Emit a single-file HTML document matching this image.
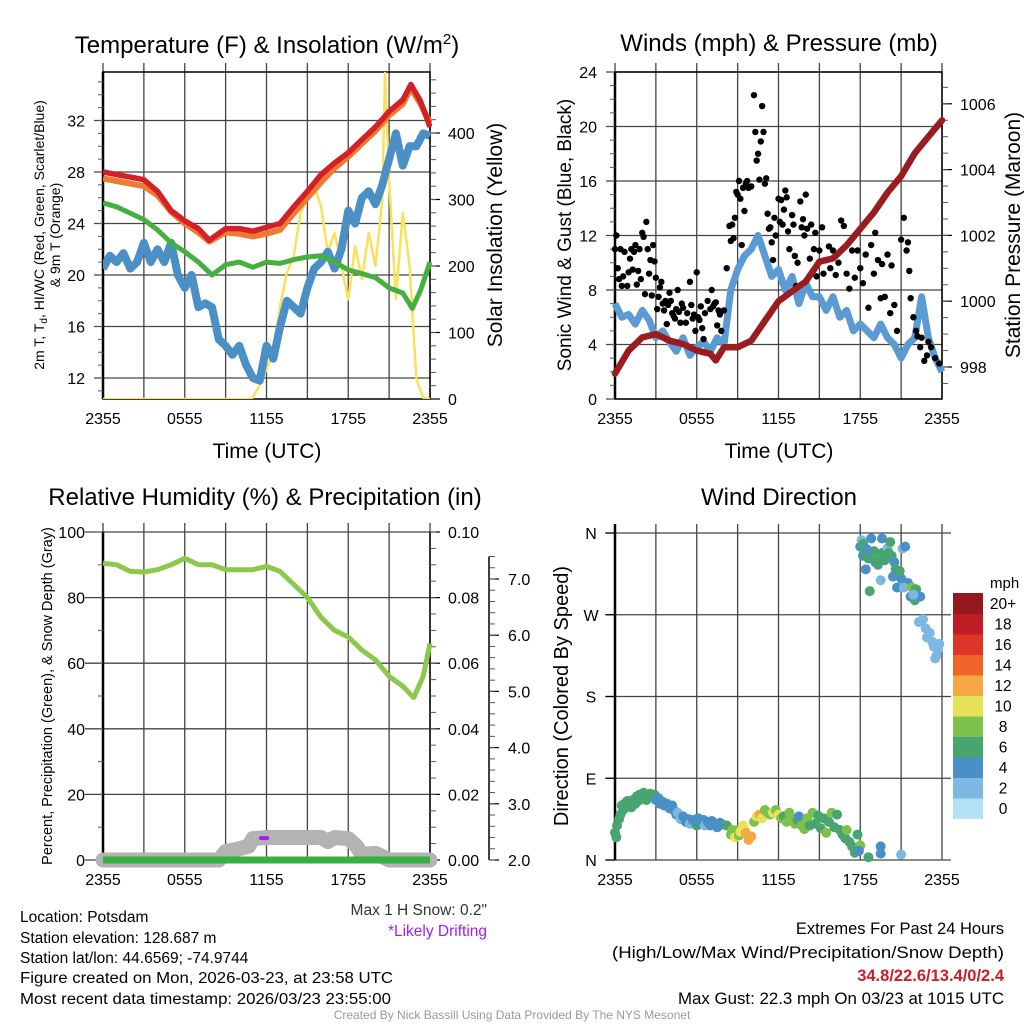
<!DOCTYPE html>
<html><head><meta charset="utf-8"><style>
html,body{margin:0;padding:0;background:#fff}
svg{display:block;font-family:"Liberation Sans",sans-serif}
</style></head><body>
<svg id="s" width="1024" height="1024" viewBox="0 0 1024 1024" xmlns="http://www.w3.org/2000/svg">
<rect width="1024" height="1024" fill="#fff"/>
<g id="g1"></g>
<g id="g2"></g>
<g id="g3"></g>
<g id="g4"></g>
<text x="267" y="53" font-size="24" text-anchor="middle">Temperature (F) &amp; Insolation (W/m<tspan font-size="15" dy="-9">2</tspan><tspan dy="9">)</tspan></text>
<text x="779" y="51" font-size="24" text-anchor="middle">Winds (mph) &amp; Pressure (mb)</text>
<text x="265" y="505" font-size="24" text-anchor="middle">Relative Humidity (%) &amp; Precipitation (in)</text>
<text x="779" y="505" font-size="24" text-anchor="middle">Wind Direction</text>
<g font-size="15.5">
<text x="20" y="922">Location: Potsdam</text>
<text x="20" y="943">Station elevation: 128.687 m</text>
<text x="20" y="963">Station lat/lon: 44.6569; -74.9744</text>
<text x="20" y="983" textLength="373" lengthAdjust="spacingAndGlyphs">Figure created on Mon, 2026-03-23, at 23:58 UTC</text>
<text x="20" y="1004" textLength="371" lengthAdjust="spacingAndGlyphs">Most recent data timestamp: 2026/03/23 23:55:00</text>
</g>
<text x="487" y="915" font-size="15.5" text-anchor="end" fill="#333">Max 1 H Snow: 0.2"</text>
<text x="487" y="936" font-size="15.5" text-anchor="end" fill="#a020f0">*Likely Drifting</text>
<g font-size="16.5" text-anchor="end">
<text x="1004" y="934">Extremes For Past 24 Hours</text>
<text x="1004" y="958" textLength="392" lengthAdjust="spacingAndGlyphs">(High/Low/Max Wind/Precipitation/Snow Depth)</text>
<text x="1004" y="981" fill="#c8202a" font-weight="bold">34.8/22.6/13.4/0/2.4</text>
<text x="1004" y="1004" textLength="326" lengthAdjust="spacingAndGlyphs">Max Gust: 22.3 mph On 03/23 at 1015 UTC</text>
</g>
<text x="512" y="1019" font-size="12" text-anchor="middle" fill="#999">Created By Nick Bassill Using Data Provided By The NYS Mesonet</text>
</svg>
<script>
// ---------- data ----------
const hourTicks = [0,6,12,18,24];
const timeLabels = ["2355","0555","1155","1755","2355"];
const tHours = [0,1,2,3,4,5,6,7,7.8,9,10,11,12,13,14,15,16,17,18,19,20,21,22,22.6,23.3,24];
const tempRed = [28.0,27.8,27.6,27.4,26.5,25.0,24.2,23.6,22.7,23.6,23.6,23.4,23.7,24.0,25.3,26.5,27.8,28.7,29.5,30.5,31.5,32.7,33.6,34.8,33.5,31.5];
const temp9m = [27.5,27.3,27.1,26.9,26.2,24.9,24.0,23.3,22.6,23.3,23.2,23.0,23.2,23.5,24.8,26.0,27.2,28.3,29.2,30.2,31.2,32.4,33.3,34.5,33.3,31.8];
const dewHours = [0,1,2,3,4,5,6,7,8,9,10,11,12,13,14,15,16,17,18,19,20,21,22,22.7,23.3,24];
const dewGreen = [25.6,25.3,24.8,24.3,23.5,22.5,21.8,21.0,20.0,20.8,21.0,20.6,21.0,20.9,21.2,21.4,21.5,21.0,20.4,20.1,19.8,19.0,18.6,17.4,18.8,21.0];
const wcHours = [0,0.5,1,1.5,2,2.5,3,3.5,4,4.5,5,5.5,6,6.5,7,7.5,8,8.5,9,9.5,10,10.5,11,11.5,12,12.5,13,13.5,14,14.5,15,15.5,16,16.5,17,17.5,18,18.5,19,19.5,20,20.5,21,21.5,22,22.5,23,23.5,24];
const wcBlue = [20.5,21.5,21,21.7,20.5,21,22.5,21,22,21,22.5,20,19,20,17.5,17.8,17.5,15,14.5,13.8,14.5,13,12,11.8,14.5,13.5,16,18,17.5,17,19,20.5,21,21.8,20.5,22,25,24,26,26.5,25.5,27,29,31,28.5,30,30,31,30.8];
const solHours = [0,10.9,11.5,12,12.5,13,13.5,14,14.5,15,15.5,16,16.5,17,17.5,18,18.5,19,19.5,20,20.5,20.7,21,21.5,22,22.5,23,23.5,24];
const solar = [0,0,20,45,70,140,190,215,280,300,320,290,220,250,200,150,230,180,250,200,300,490,330,150,280,200,30,2,0];

const presHours = [0,1,2,3,4,5,6,7,7.4,8,9,10,11,12,13,14,15,16,17,18,19,20,21,22,23,24];
const pressure = [997.8,998.5,998.9,999.0,998.8,998.7,998.5,998.4,998.2,998.6,998.6,998.8,999.4,1000.0,1000.3,1000.6,1001.2,1001.3,1001.7,1002.2,1002.7,1003.3,1003.8,1004.5,1005.0,1005.5];
const windHours = wcHours;
const windBlue = [7,6,6.2,5.5,6.5,5.8,4.5,5,4.2,3.5,4.5,3.2,3.8,4.2,3.5,4.5,4,8,9.5,10.5,11,12,10.5,9,9.5,8,9,7,8.5,7.5,7.5,6.5,7.5,6,6.5,5,5.5,5,4.5,5.5,4.5,4,3,4,4.5,7.5,4.5,3,2];
const gustHours = [0,0.1,0.2,0.3,0.4,0.5,0.6,0.7,0.9,1.0,1.1,1.2,1.3,1.4,1.5,1.6,1.7,1.8,1.9,2.0,2.1,2.2,2.3,2.4,2.5,2.6,2.7,2.8,2.9,3.0,3.1,3.2,3.3,3.4,3.5,3.6,3.7,3.8,3.9,4.0,4.1,4.2,4.3,4.4,4.5,4.6,4.7,4.8,4.9,5.0,5.2,5.3,5.5,5.6,5.7,5.8,5.9,6.0,6.1,6.2,6.3,6.4,6.5,6.6,6.8,7.0,7.1,7.2,7.3,7.4,7.5,7.6,7.7,7.8,8.0,8.2,8.4,8.5,8.6,8.7,8.8,8.9,9.0,9.1,9.2,9.3,9.4,9.5,9.6,9.7,9.8,10.0,10.2,10.3,10.4,10.5,10.6,10.7,10.8,10.9,11.0,11.1,11.2,11.3,11.4,11.5,11.6,11.7,11.8,12.0,12.1,12.2,12.3,12.4,12.5,12.6,12.7,12.8,13.0,13.1,13.2,13.3,13.4,13.6,13.7,13.8,13.9,14.0,14.1,14.3,14.4,14.6,14.7,14.8,15.0,15.2,15.3,15.5,15.7,15.8,16.0,16.2,16.4,16.6,16.8,17.0,17.2,17.4,17.6,17.8,18.0,18.2,18.4,18.6,18.8,19.0,19.1,19.3,19.5,19.6,19.8,20.0,20.2,20.3,20.5,20.7,21.0,21.2,21.4,21.5,21.6,21.7,21.9,22.1,22.2,22.4,22.5,22.7,22.9,23.0,23.2,23.5,23.8];
const gustMph = [11,12,9.6,8.8,11,8.3,9,10.8,8.3,9.3,10.3,11,9.5,10.8,11.3,8.4,9.4,11,8.8,12.2,11.9,7.7,13,11,9.2,10.2,7.6,11.3,10.1,8.9,6.6,7.5,8.2,8.6,7,6.5,7.2,5.5,6.9,7.8,7.2,6.3,6.1,5.9,6.6,8,6.4,5.6,7,6.7,5.6,6.3,8.6,6.9,5.9,6.2,5,9.3,6,5.8,6.8,5.2,4.4,6.3,7.2,6.6,8,6.8,7,7.1,5.4,6.5,6.2,5,6.5,9.6,12.7,11.6,12.8,11.8,13.3,15.2,15,16,14.7,11.3,15.5,13.8,15.8,16,15.5,15.6,22.3,19.6,17.5,18,16.1,18.9,21.5,19.6,15.8,16.2,13.6,12.5,12.6,11.5,10.2,13.3,12,14.7,13,14.6,12.8,13.9,15.3,14.8,12.3,11,13.5,12.8,10.5,8.3,10,14.5,12.6,13.2,12,15,12.5,10.3,12.8,11,12.2,9,10.9,12.6,9.2,10.2,11.2,9.6,10.9,9.1,10,13.1,12.7,9.2,8.1,10.9,8.9,10.9,9.6,8.5,10.6,6.7,11.3,9.2,12.2,10.2,7.4,9.9,7.5,10.6,6.3,9.8,6.9,5,11.7,13.3,10.9,11.5,9.4,7.4,6,5,4.6,3.8,4.5,2.8,3.2,4.2,3.8,3,2.6];

const rhHours = [0,1,2,3,4,5,6,7,8,9,10,11,12,13,14,15,16,17,18,19,20,21,22,22.8,23.5,24];
const rh = [90.5,90,88,87.8,88.5,90,92,90,90,88.5,88.5,88.5,89.5,88,84,80,74,70,68,64,61,56,53,49.5,56,66];
const snowHours = [0,8.5,9,10,10.7,11,12,13,14,15,16,16.5,17,18,18.6,19,20,21,24];
const snowDepth = [2.0,2.0,2.15,2.2,2.25,2.38,2.4,2.4,2.4,2.4,2.4,2.33,2.4,2.38,2.25,2.1,2.12,2.0,2.0];
const precipHours = [0,24];
const precip = [0,0];

const dirHours = [
 0,0.1,0.15,0.3,0.4,0.5,0.6,0.7,0.8,0.9,1.0,1.1,1.2,1.3,1.5,1.6,1.7,1.8,2.0,2.1,2.3,2.4,2.6,2.7,2.9,
 3.0,3.2,3.3,3.5,3.6,3.8,4.0,4.2,4.3,4.5,4.6,4.8,5.0,5.2,5.4,5.5,5.7,6.0,6.1,6.3,6.5,6.6,6.8,7.0,7.1,7.3,7.5,7.7,7.9,8.2,
 8.5,8.6,8.8,9.0,9.1,9.2,9.4,9.5,9.6,9.8,10.0,10.2,10.4,10.6,10.8,11.0,11.2,11.4,
 11.6,11.8,12.0,12.2,12.4,12.6,12.8,13.0,13.2,13.4,13.5,13.7,13.9,14.1,14.3,14.5,14.7,14.9,15.1,15.3,15.5,15.7,15.9,16.1,16.3,16.5,16.7,16.9,17.0,17.2,17.4,17.6,17.8,17.9,18.0,18.6,
 18.0,18.1,18.2,18.3,18.4,18.6,18.7,18.8,19.0,19.1,19.3,19.5,19.6,19.8,19.6,20.0,20.2,20.3,20.5,20.7,20.6,21.1,21.3,21.5,21.0,21.2,21.7,21.8,22.0,22.1,22.4,21.9,18.2,18.5,19.2,19.9,20.1,20.4,20.9,
 22.3,22.6,22.8,22.9,23.1,23.3,23.4,23.6,23.7,23.5,23.8,
 19.5,19.5,21.0,17.9];
const dirDeg = [
 30,25,38,45,50,60,55,62,58,65,60,64,58,66,62,70,65,72,68,74,66,72,73,70,72,
 66,68,62,64,60,62,57,60,55,50,52,45,48,42,45,40,44,38,46,40,44,38,42,38,43,40,36,41,39,38,
 28,33,25,33,27,31,38,34,30,22,26,42,48,50,46,55,52,50,
 52,55,50,46,48,42,52,45,40,44,48,38,34,46,38,52,40,49,35,46,30,42,52,36,50,33,28,24,33,20,15,8,28,12,16,3,
 345,352,335,339,320,332,296,354,340,328,325,308,338,330,354,343,350,335,328,300,320,343,345,305,310,300,290,300,286,298,290,292,348,342,330,336,338,312,318,
 262,265,255,245,250,240,235,225,232,222,238,
 15,7,6,10];
const dirSpeed = [
 6,6,6,6,6,6,6,6,6,6,6,6,6,6,6,6,6,6,6,6,6,6,6,6,6,
 4,4,4,4,4,4,4,4,4,4,3,2,4,4,4,2,4,6,4,4,4,3,4,4,4,4,4,4,4,6,
 8,8,10,8,9,10,10,10,12,13,13,9,10,13,10,8,8,8,
 10,8,10,8,6,8,8,8,8,6,4,8,8,8,6,8,6,6,6,6,8,6,8,6,6,6,6,6,8,6,6,6,6,4,8,6,
 4,2,4,6,4,6,6,4,6,4,6,2,6,6,4,2,6,6,4,4,6,2,4,4,4,2,4,8,6,6,4,2,6,4,6,6,6,4,6,
 2,2,2,2,2,2,2,2,2,2,2,
 4,4,2,4];
const speedBins = ["0","2","4","6","8","10","12","14","16","18","20+"];
const binColors = ["#b4e1f6","#7cb8e2","#4a8fc6","#49a570","#7dc14b","#e6e25a","#f6a844","#ef6429","#de3529","#be1d25","#94181c"];

// ---------- helpers ----------
const NS="http://www.w3.org/2000/svg";
function mk(parent,tag,attrs){const e=document.createElementNS(NS,tag);for(const k in attrs)e.setAttribute(k,attrs[k]);parent.appendChild(e);return e;}
const X0=103, X1=430, X0b=615, X1b=942;
function xs(a,b){return h=>a+(b-a)*h/24;}
function pathD(hs,vs,fx,fy){return hs.map((h,i)=>(i?"L":"M")+fx(h).toFixed(1)+","+fy(vs[i]).toFixed(1)).join("");}

function grid(g,fx,top,bot,yTicks,fy,left,right){
  for(let h=0;h<=24;h+=3){const l=mk(g,"line",{x1:fx(h),x2:fx(h),y1:top-9,y2:bot,stroke:"#444","stroke-width":1.3});
    
    }
  yTicks.forEach(v=>{const l=mk(g,"line",{x1:left-9,x2:right,y1:fy(v),y2:fy(v),stroke:"#444","stroke-width":1.3});
    
    });
  hourTicks.forEach((h,i)=>{const t=mk(g,"text",{x:fx(h),y:bot+25,"font-size":16,"text-anchor":"middle"});t.textContent=timeLabels[i];
    
    });
}
function leftLabels(g,vals,fy,x,fmt){vals.forEach(v=>{const t=mk(g,"text",{x:x,y:fy(v)+6,"font-size":16,"text-anchor":"end"});t.textContent=fmt?fmt(v):v;
  
  });}
function rightAxis(g,x,vals,fy,fmt,minor,lx){
  vals.forEach(v=>{mk(g,"line",{x1:x,x2:x+10,y1:fy(v),y2:fy(v),stroke:"#000","stroke-width":1.2});
    const t=mk(g,"text",{x:lx,y:fy(v)+6,"font-size":16});t.textContent=fmt(v);
    
    });
  minor.forEach(v=>mk(g,"line",{x1:x,x2:x+6,y1:fy(v),y2:fy(v),stroke:"#555","stroke-width":1}));
}
function rot(g,x,y,txt,size,name){const t=mk(g,"text",{x:0,y:0,"font-size":size,"text-anchor":"middle",transform:`translate(${x},${y}) rotate(-90)`});t.textContent=txt;
  
  return t;}
function range(a,b,s){const r=[];for(let v=a;v<=b+1e-9;v+=s)r.push(+v.toFixed(4));return r;}

// ---------- panel 1 ----------
(function(){
const g=document.getElementById("g1");
const fx=xs(X0,X1);
const fy=v=>378-(v-12)*12.875;
const fs=v=>399-v*0.665;
const T=72,B=399;
grid(g,fx,T,B,[12,16,20,24,28,32],fy,X0,X1);
mk(g,"rect",{x:X0,y:T,width:X1-X0,height:B-T,fill:"none",stroke:"#000","stroke-width":1.5});
mk(g,"line",{x1:X0,x2:X0,y1:T,y2:B,stroke:"#000","stroke-width":2.5});
leftLabels(g,[12,16,20,24,28,32],fy,85);
range(11,35,1).forEach(v=>mk(g,"line",{x1:X0-5,x2:X0,y1:fy(v),y2:fy(v),stroke:"#555"}));
rightAxis(g,X1,[0,100,200,300,400],fs,v=>v,range(20,480,20),448);
rot(g,44,235,"2m T, T",14,"left-axis-title-line1").innerHTML='2m T, T<tspan font-size="10" dy="3">d</tspan><tspan dy="-3">, HI/WC (Red, Green, Scarlet/Blue)</tspan>';
rot(g,60,235,"& 9m T (Orange)",14,"left-axis-title-line2");
rot(g,502,235,"Solar Insolation (Yellow)",21,"right-axis-title");
const tl=mk(g,"text",{x:267,y:458,"font-size":21,"text-anchor":"middle"});tl.textContent="Time (UTC)";


mk(g,"clipPath",{id:"c1"}).appendChild(document.createElementNS(NS,"rect"));
const cr=g.querySelector("#c1 rect");cr.setAttribute("x",X0);cr.setAttribute("y",T);cr.setAttribute("width",X1-X0+2);cr.setAttribute("height",B-T);
const series=[[solHours,solar,fs,"#f9e15a",2.5,"solar-line"],[wcHours,wcBlue,fy,"#4a8fc6",8,"windchill-line"],[dewHours,dewGreen,fy,"#45b03e",5,"dewpoint-line"],[tHours,temp9m,fy,"#f07a31",6,"temp-9m-line"],[tHours,tempRed,fy,"#d42027",5.5,"temp-2m-line"]];
series.forEach(s=>{const p=mk(g,"path",{d:pathD(s[0],s[1],fx,s[2]),fill:"none",stroke:s[3],"stroke-width":s[4],"stroke-linejoin":"round","clip-path":"url(#c1)"});
  
  });
})();

// ---------- panel 2 ----------
(function(){
const g=document.getElementById("g2");
const fx=xs(X0b,X1b);
const fy=v=>399-v*13.625;
const fp=v=>367-(v-998)*32.9;
const T=72,B=399;
grid(g,fx,T,B,[0,4,8,12,16,20,24],fy,X0b,X1b);
mk(g,"rect",{x:X0b,y:T,width:X1b-X0b,height:B-T,fill:"none",stroke:"#000","stroke-width":1.5});
mk(g,"line",{x1:X0b,x2:X0b,y1:T,y2:B,stroke:"#000","stroke-width":2.5});
leftLabels(g,[0,4,8,12,16,20,24],fy,597);
range(0,24,1).forEach(v=>mk(g,"line",{x1:X0b-5,x2:X0b,y1:fy(v),y2:fy(v),stroke:"#555"}));
rightAxis(g,X1b,[998,1000,1002,1004,1006],fp,v=>v,range(997.5,1006.5,0.5),960);
rot(g,571,235,"Sonic Wind & Gust (Blue, Black)",19,"left-axis-title");
rot(g,1020,235,"Station Pressure (Maroon)",21,"right-axis-title");
const tl=mk(g,"text",{x:779,y:458,"font-size":21,"text-anchor":"middle"});tl.textContent="Time (UTC)";


const w=mk(g,"path",{d:pathD(windHours,windBlue,fx,fy),fill:"none",stroke:"#5b9bd3","stroke-width":7,"stroke-linejoin":"round"});


gustHours.forEach((h,i)=>{const c=mk(g,"circle",{cx:fx(h),cy:fy(gustMph[i]),r:3.2,fill:"#000"});
  
  });
const p=mk(g,"path",{d:pathD(presHours,pressure,fx,fp),fill:"none",stroke:"#9b1c1f","stroke-width":6.5,"stroke-linejoin":"round","stroke-linecap":"round"});


})();

// ---------- panel 3 ----------
(function(){
const g=document.getElementById("g3");
const fx=xs(X0,X1);
const fy=v=>860-v*3.28;
const fpr=v=>860-v*3280;
const fsn=v=>860-(v-2)*56.2;
const T=532,B=860;
grid(g,fx,T,B,[0,20,40,60,80,100],fy,X0-9,X1);
mk(g,"line",{x1:X0,x2:X0,y1:T,y2:B,stroke:"#000","stroke-width":2.5});
mk(g,"line",{x1:X1,x2:X1,y1:T,y2:B,stroke:"#000","stroke-width":1.5});
leftLabels(g,[0,20,40,60,80,100],fy,85);
range(0,100,10).forEach(v=>mk(g,"line",{x1:X0-5,x2:X0,y1:fy(v),y2:fy(v),stroke:"#555"}));
rightAxis(g,X1,[0,0.02,0.04,0.06,0.08,0.10],fpr,v=>v.toFixed(2),range(0,0.1,0.005),448);
mk(g,"line",{x1:489,x2:489,y1:fsn(7.4),y2:B,stroke:"#000","stroke-width":1.5});
rightAxis(g,489,[2,3,4,5,6,7],fsn,v=>v.toFixed(1),range(2,7.4,0.2),508);
rot(g,52,696,"Percent, Precipitation (Green), & Snow Depth (Gray)",14.5,"left-axis-title");
const sn=mk(g,"path",{d:pathD(snowHours,snowDepth,fx,fsn),fill:"none",stroke:"#b3b3b3","stroke-width":15,"stroke-linejoin":"round","stroke-linecap":"round"});


const pr=mk(g,"path",{d:pathD(precipHours,precip,fx,fpr),fill:"none",stroke:"#3aae3f","stroke-width":7});


const dr=mk(g,"line",{x1:fx(11.6),x2:fx(12.05),y1:fsn(2.39),y2:fsn(2.39),stroke:"#a020f0","stroke-width":4,"stroke-linecap":"round"});


const r=mk(g,"path",{d:pathD(rhHours,rh,fx,fy),fill:"none",stroke:"#8cc84b","stroke-width":5,"stroke-linejoin":"round"});


})();

// ---------- panel 4 ----------
(function(){
const g=document.getElementById("g4");
const fx=xs(X0b,X1b);
const fd=v=>860-v*327/360;
const T=533,B=860;
grid(g,fx,T,B,[0,90,180,270,360],fd,X0b-1,X1b+9);
mk(g,"line",{x1:X0b,x2:X0b,y1:T-9,y2:B,stroke:"#000","stroke-width":2.5});
const dl=["N","E","S","W","N"];
[0,90,180,270,360].forEach((v,i)=>{mk(g,"line",{x1:X0b-9,x2:X0b,y1:fd(v),y2:fd(v),stroke:"#000","stroke-width":1.2});
  const t=mk(g,"text",{x:591,y:fd(v)+6,"font-size":16,"text-anchor":"middle"});t.textContent=dl[i];
  
  });
rot(g,568,696,"Direction (Colored By Speed)",20,"left-axis-title");
dirHours.forEach((h,i)=>{const b=Math.min(10,Math.floor(dirSpeed[i]/2));
  const c=mk(g,"circle",{cx:fx(h),cy:fd(dirDeg[i]),r:5,fill:binColors[b]});
  
  });
const lg=mk(g,"g",{});


const mt=mk(lg,"text",{x:990,y:588,"font-size":15}); mt.textContent="mph";
speedBins.forEach((s,i)=>{const y=798-i*20.5;
  const r=mk(lg,"rect",{x:953,y:y,width:30,height:21,fill:binColors[i]});
  
  
  const t=mk(lg,"text",{x:1003,y:y+16,"font-size":15.5,"text-anchor":"middle"});t.textContent=s;
  
  });
})();
</script>
</body></html>
